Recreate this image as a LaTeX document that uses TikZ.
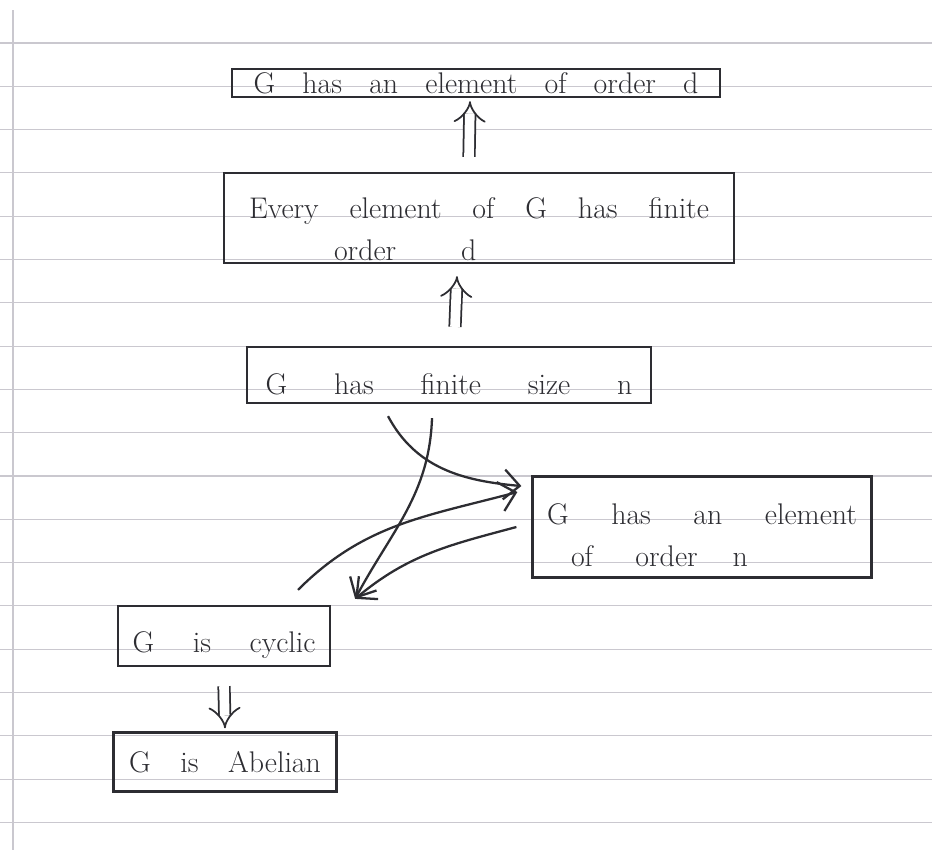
\documentclass[tikz,border=0pt]{standalone}
\usetikzlibrary{arrows.meta}
\definecolor{ink}{RGB}{45,45,50}
\definecolor{paper}{RGB}{202,200,207}
\tikzset{
	claim/.style={draw=ink, line width=1.3pt, inner sep=0pt, align=left, text=ink, font=\fontsize{17}{24}\selectfont},
	imp/.style={draw=ink, double, double distance=5.5pt, line width=1pt, -{Implies[scale=1.4]}},
	lead/.style={draw=ink, line width=1.3pt, -{Straight Barb[length=9pt,width=17pt]}},
	rule/.style={draw=paper, line width=.6pt}
}
\begin{document}
\begin{tikzpicture}[x=.02cm, y=-.02cm]
		\useasboundingbox (0,0) rectangle (932,850);
		\draw[rule] (0,43) -- (932,43);
		\draw[rule] (0,86.3) -- (932,86.3);
		\draw[rule] (0,129.6) -- (932,129.6);
		\draw[rule] (0,172.9) -- (932,172.9);
		\draw[rule] (0,216.2) -- (932,216.2);
		\draw[rule] (0,259.5) -- (932,259.5);
		\draw[rule] (0,302.8) -- (932,302.8);
		\draw[rule] (0,346.1) -- (932,346.1);
		\draw[rule] (0,389.4) -- (932,389.4);
		\draw[rule] (0,432.7) -- (932,432.7);
		\draw[rule] (0,476) -- (932,476);
		\draw[rule] (0,519.3) -- (932,519.3);
		\draw[rule] (0,562.6) -- (932,562.6);
		\draw[rule] (0,605.9) -- (932,605.9);
		\draw[rule] (0,649.2) -- (932,649.2);
		\draw[rule] (0,692.5) -- (932,692.5);
		\draw[rule] (0,735.8) -- (932,735.8);
		\draw[rule] (0,779.1) -- (932,779.1);
		\draw[rule] (0,822.4) -- (932,822.4);
		\draw[rule] (13,10) -- (13,850);
		\node[claim, minimum width=9.76cm, minimum height=.56cm, text width=8.9cm] (eltd) at (476,83) {G\hfill has\hfill an\hfill element\hfill of\hfill order\hfill d};
		\node[claim, minimum width=10.2cm, minimum height=1.8cm, text width=9.2cm] (alld) at (479,218) {\rule{0pt}{.85cm}Every\hfill element\hfill of\hfill G\hfill has\hfill finite\\ \hspace*{1.7cm}order\hspace{1.3cm}d};
		\node[claim, minimum width=8.08cm, minimum height=1.12cm, text width=7.34cm] (size) at (449,375) {\rule{0pt}{.8cm}G\hfill has\hfill finite\hfill size\hfill n};
		\node[claim, minimum width=6.78cm, minimum height=2.02cm, text width=6.2cm] (eltn) at (702,527) {\rule{0pt}{.75cm}G\hfill has\hfill an\hfill element\\ \hspace*{.48cm}of\hspace{.85cm}order\hspace{.7cm}n};
		\node[claim, minimum width=4.24cm, minimum height=1.2cm, text width=3.66cm] (cyc) at (224,636) {\rule{0pt}{.8cm}G\hfill is\hfill cyclic};
		\node[claim, minimum width=4.46cm, minimum height=1.18cm, text width=3.84cm] (abel) at (225,762) {G\hfill is\hfill Abelian};
		\coordinate (hit) at ([xshift=.48cm,yshift=.12cm]cyc.north east);
		\draw[imp] ([xshift=-.2cm,yshift=.3cm]alld.north) -- ([xshift=-.12cm,yshift=-.06cm]eltd.south);
		\draw[imp] ([xshift=.12cm,yshift=.38cm]size.north) -- ([xshift=-.44cm,yshift=-.24cm]alld.south);
		\draw[imp] ([yshift=-.38cm]cyc.south) -- ([yshift=.06cm]abel.north);
		\draw[lead] ([xshift=-1.22cm,yshift=-.24cm]size.south) to[out=-62, in=175] ([xshift=-.2cm,yshift=.82cm]eltn.west);
		\draw[lead] ([xshift=-.34cm,yshift=-.28cm]size.south) to[out=-92, in=62] (hit);
		\draw[lead] ([xshift=1.48cm,yshift=.3cm]cyc.north) to[out=45, in=-165] ([xshift=-.28cm,yshift=.7cm]eltn.west);
		\draw[lead] ([xshift=-.3cm]eltn.west) to[out=195, in=40] (hit);
	\end{tikzpicture}
\end{document}
